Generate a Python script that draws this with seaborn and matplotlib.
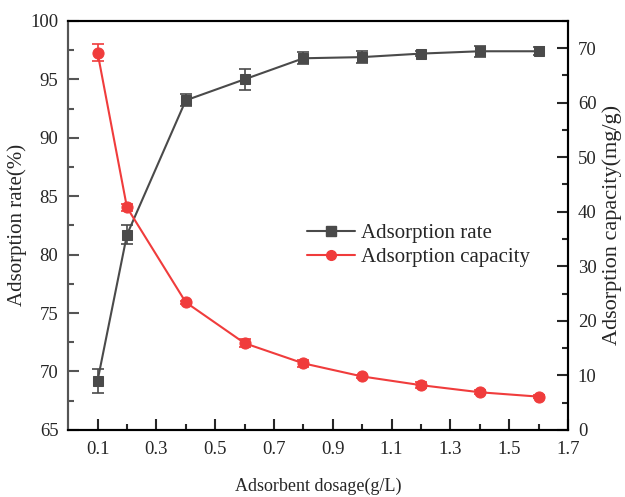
import matplotlib
matplotlib.use("Agg")
import matplotlib.pyplot as plt
import seaborn as sns
import pandas as pd
from matplotlib.ticker import MultipleLocator, FixedLocator
from matplotlib.lines import Line2D

dosage = [0.1, 0.2, 0.4, 0.6, 0.8, 1.0, 1.2, 1.4, 1.6]
rate = [69.2, 81.7, 93.2, 95.0, 96.8, 96.9, 97.2, 97.4, 97.4]
rate_err = [1.0, 0.8, 0.5, 0.9, 0.5, 0.5, 0.2, 0.45, 0.35]
capacity = [69.2, 40.8, 23.4, 15.9, 12.2, 9.8, 8.2, 6.9, 6.1]
capacity_err = [1.6, 0.7, 0.3, 0.7, 0.6, 0.3, 0.5, 0.4, 0.3]
xticks = [0.1, 0.3, 0.5, 0.7, 0.9, 1.1, 1.3, 1.5, 1.7]

sns.set_style("white")
plt.rcParams['font.family'] = ['Liberation Serif', 'DejaVu Serif']
plt.rcParams['mathtext.fontset'] = 'stix'

gray = '#4a4a4a'
red = '#f03c3c'
fs = 13.5

df = pd.DataFrame({'dosage': dosage, 'rate': rate, 'capacity': capacity})

fig = plt.figure(figsize=(6.25, 4.97), dpi=100)
ax = fig.add_axes([0.109, 0.135, 0.8, 0.823])
ax2 = ax.twinx()

ax.errorbar(dosage, rate, yerr=rate_err, fmt='none', ecolor=gray, elinewidth=1.2, capsize=4, capthick=1.2, zorder=2)
sns.lineplot(data=df, x='dosage', y='rate', ax=ax, color=gray, marker='s', markersize=7,
             markeredgecolor=gray, linewidth=1.5, zorder=3)
ax2.errorbar(dosage, capacity, yerr=capacity_err, fmt='none', ecolor=red, elinewidth=1.2, capsize=4, capthick=1.2, zorder=2)
sns.lineplot(data=df, x='dosage', y='capacity', ax=ax2, color=red, marker='o', markersize=8,
             markeredgecolor=red, linewidth=1.5, zorder=3)

ax.set_xlim(0.0, 1.7)
ax.set_ylim(65, 100)
ax2.set_ylim(0, 75)
ax.xaxis.set_major_locator(FixedLocator(xticks))
ax.xaxis.set_minor_locator(FixedLocator([0.2, 0.4, 0.6, 0.8, 1.0, 1.2, 1.4, 1.6]))
ax.set_xticklabels([f"{t:.1f}" for t in xticks])
ax.yaxis.set_major_locator(MultipleLocator(5))
ax.yaxis.set_minor_locator(MultipleLocator(2.5))
ax2.yaxis.set_major_locator(MultipleLocator(10))
ax2.yaxis.set_minor_locator(MultipleLocator(5))

for a in (ax, ax2):
    for s in a.spines.values():
        s.set_visible(True)
        s.set_color('black')
        s.set_linewidth(1.5)
ax.spines['left'].set_color('#555555')
ax2.spines['left'].set_color('#555555')

ax.tick_params(axis='both', which='major', direction='in', length=8, width=1.5, labelsize=fs, pad=7,
               bottom=True, left=True, top=False, right=False)
ax.tick_params(axis='both', which='minor', direction='in', length=4, width=1.5,
               bottom=True, left=True, top=False, right=False)
ax.tick_params(axis='x', which='major', pad=8)
ax.tick_params(axis='y', which='both', color='#555555')
ax2.tick_params(axis='y', which='major', direction='in', length=8, width=1.5, labelsize=fs, pad=7)
ax2.tick_params(axis='y', which='minor', direction='in', length=4, width=1.5)

ax.set_xlabel('Adsorbent dosage(g/L)', fontsize=13, labelpad=14)
ax.set_ylabel('Adsorption rate(%)', fontsize=15, labelpad=2)
ax2.set_ylabel('Adsorption capacity(mg/g)', fontsize=16, labelpad=4)

handles = [
    Line2D([], [], color=gray, marker='s', markersize=7, linewidth=1.5),
    Line2D([], [], color=red, marker='o', markersize=7, linewidth=1.5),
]
ax.legend(handles, ['Adsorption rate', 'Adsorption capacity'], loc='upper left',
          bbox_to_anchor=(0.44, 0.55), frameon=False, fontsize=15, handlelength=2.3,
          handletextpad=0.3, labelspacing=0.2)

fig.savefig('out.png', dpi=100)
